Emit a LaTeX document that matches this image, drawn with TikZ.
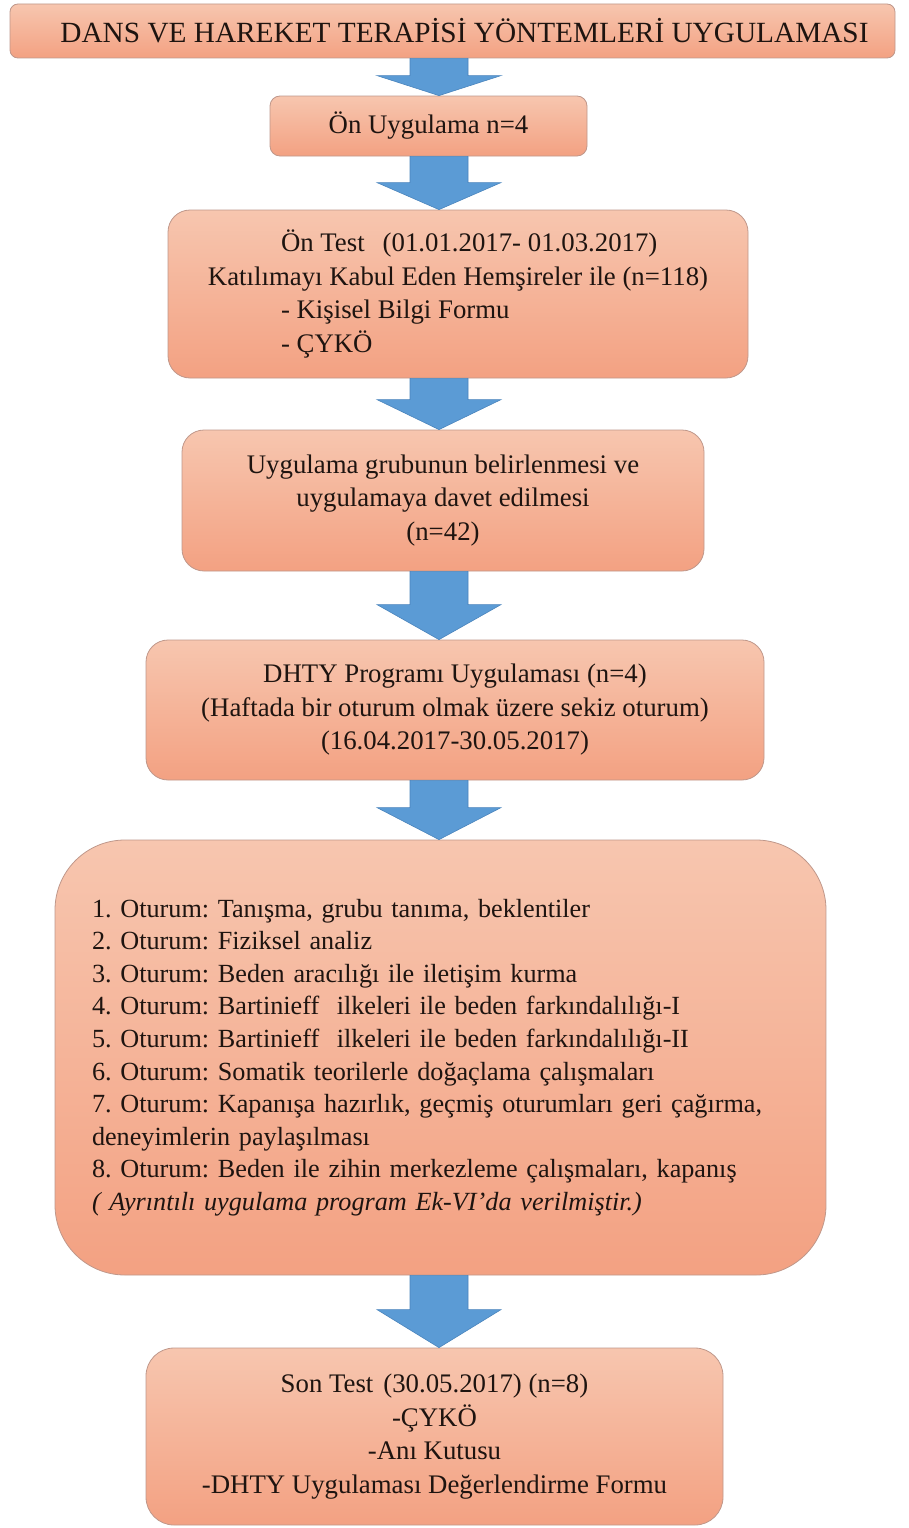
\documentclass[tikz,border=0pt]{standalone}
\usepackage{fontspec}
\setmainfont{Liberation Serif}
\frenchspacing
\usetikzlibrary{calc}
\definecolor{boxtop}{HTML}{F7C6AF}
\definecolor{boxbot}{HTML}{F3A182}
\definecolor{boxline}{HTML}{BF978A}
\definecolor{arrowblue}{HTML}{5B9BD5}
\definecolor{arrowedge}{HTML}{4A84BC}
\definecolor{ink}{HTML}{1E1410}
\newcommand\flowarrow[3]{%
\path (#1.south -| ax) coordinate (s) (#2.north -| ax) coordinate (t);
\filldraw[flow] ($(s)+(-29,0)$) -- ($(t)+(-29,-#3)$) -- ($(t)+(-62,-#3)$) -- (t) -- ($(t)+(62,-#3)$) -- ($(t)+(29,-#3)$) -- ($(s)+(29,0)$) -- cycle;}

\begin{document}
\begin{tikzpicture}[x = 1pt, y = -1pt,
box/.style = {draw = boxline, line width = 0.8pt, top color = boxtop, bottom color = boxbot, rounded corners = #1, inner sep = 0pt, align = center, text = ink, font = \fontsize{26.8}{33.5}\selectfont},
box/.default = 10pt,
flow/.style = {fill = arrowblue, draw = arrowedge, line width = 0.6pt}]
\useasboundingbox (0,0) rectangle (908,1528);
\coordinate (ax) at (439,0);
\node[box = 8pt, minimum width = 885pt, minimum height = 54pt, font = \fontsize{29.3}{33}\selectfont](title) at (452.5,31){\hspace*{24pt}DANS VE HAREKET TERAPİSİ YÖNTEMLERİ UYGULAMASI};
\node[box, minimum width = 317pt, minimum height = 60pt](pilot) at (428.5,126){Ön Uygulama n=4};
\node[box = 22pt, minimum width = 580pt, minimum height = 168pt](pretest) at (458,294){\makebox[354pt][l]{Ön Test\hspace{18pt}(01.01.2017- 01.03.2017)}\\ Katılımayı Kabul Eden Hemşireler ile (n=118)\\ \makebox[354pt][l]{- Kişisel Bilgi Formu}\\ \makebox[354pt][l]{- ÇYKÖ}};
\node[box = 22pt, minimum width = 522pt, minimum height = 141pt](group) at (443,500.5){Uygulama grubunun belirlenmesi ve\\ uygulamaya davet edilmesi\\ (n=42)};
\node[box = 22pt, minimum width = 618pt, minimum height = 140pt](program) at (455,710){DHTY Programı Uygulaması (n=4)\\ (Haftada bir oturum olmak üzere sekiz oturum)\\ (16.04.2017-30.05.2017)};
\node[box = 70pt, minimum width = 771pt, minimum height = 435pt, text width = 697pt, align = left, font = \fontsize{26.2}{32.6}\selectfont](sessions) at (440.5,1057.5){1. Oturum: Tanışma, grubu tanıma, beklentiler\\ 2. Oturum: Fiziksel analiz\\ 3. Oturum: Beden aracılığı ile iletişim kurma\\ 4. Oturum: Bartinieff\ \ ilkeleri ile beden farkındalılığı-I\\ 5. Oturum: Bartinieff\ \ ilkeleri ile beden farkındalılığı-II\\ 6. Oturum: Somatik teorilerle doğaçlama çalışmaları\\ 7. Oturum: Kapanışa hazırlık, geçmiş oturumları geri çağırma,\\ deneyimlerin paylaşılması\\ 8. Oturum: Beden ile zihin merkezleme çalışmaları, kapanış\\ \textit{( Ayrıntılı uygulama program Ek-VI’da verilmiştir.)}};
\node[box = 28pt, minimum width = 577pt, minimum height = 177pt](posttest) at (434.5,1436.5){Son Test\hspace{10pt}(30.05.2017) (n=8)\\ -ÇYKÖ\\ -Anı Kutusu\\ -DHTY Uygulaması Değerlendirme Formu};
\flowarrow{title}{pilot}{20}
\flowarrow{pilot}{pretest}{27}
\flowarrow{pretest}{group}{30}
\flowarrow{group}{program}{35}
\flowarrow{program}{sessions}{32}
\flowarrow{sessions}{posttest}{38}
\end{tikzpicture}
\end{document}
